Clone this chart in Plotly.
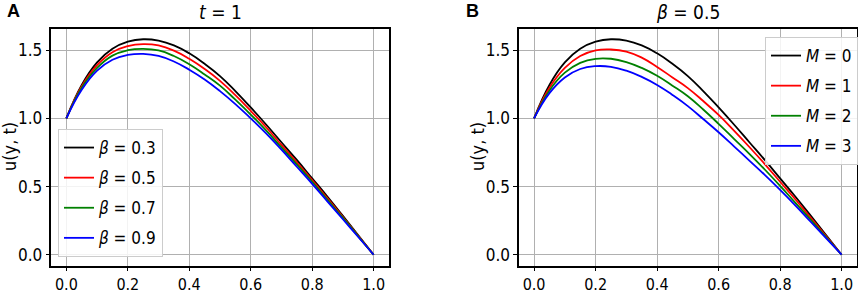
import plotly.graph_objects as go

# ---- data ----
y_pos = [0.0, 0.05, 0.1, 0.15, 0.2, 0.25, 0.3, 0.35, 0.4, 0.45, 0.5,
         0.55, 0.6, 0.65, 0.7, 0.75, 0.8, 0.85, 0.9, 0.95, 1.0]

# Panel A (t = 1), varying beta
beta_labels = ["0.3", "0.5", "0.7", "0.9"]
u_beta_03 = [1.00, 1.245, 1.41, 1.51, 1.562, 1.58, 1.57, 1.535, 1.477, 1.40, 1.31,
             1.20, 1.08, 0.955, 0.825, 0.695, 0.56, 0.425, 0.285, 0.143, 0.0]
u_beta_05 = [1.00, 1.235, 1.39, 1.485, 1.53, 1.545, 1.535, 1.497, 1.437, 1.362, 1.275,
             1.17, 1.055, 0.935, 0.805, 0.678, 0.548, 0.413, 0.277, 0.138, 0.0]
u_beta_07 = [1.00, 1.225, 1.37, 1.46, 1.50, 1.51, 1.498, 1.457, 1.397, 1.322, 1.24,
             1.137, 1.028, 0.912, 0.787, 0.662, 0.535, 0.402, 0.27, 0.135, 0.0]
u_beta_09 = [1.00, 1.21, 1.35, 1.43, 1.465, 1.473, 1.458, 1.417, 1.357, 1.285, 1.20,
             1.105, 1.00, 0.89, 0.77, 0.645, 0.52, 0.39, 0.26, 0.13, 0.0]

# Panel B (beta = 0.5), varying M
m_labels = ["0", "1", "2", "3"]
u_m_0 = [1.00, 1.245, 1.41, 1.51, 1.562, 1.58, 1.57, 1.535, 1.477, 1.40, 1.31,
         1.20, 1.08, 0.955, 0.825, 0.695, 0.56, 0.425, 0.285, 0.143, 0.0]
u_m_1 = [1.00, 1.225, 1.37, 1.457, 1.498, 1.505, 1.49, 1.445, 1.377, 1.30, 1.222,
         1.127, 1.025, 0.91, 0.79, 0.665, 0.535, 0.405, 0.27, 0.135, 0.0]
u_m_2 = [1.00, 1.205, 1.335, 1.407, 1.437, 1.437, 1.413, 1.37, 1.312, 1.24, 1.162,
         1.065, 0.96, 0.85, 0.74, 0.625, 0.505, 0.38, 0.255, 0.128, 0.0]
u_m_3 = [1.00, 1.185, 1.30, 1.362, 1.383, 1.378, 1.35, 1.304, 1.245, 1.172, 1.09,
         0.995, 0.898, 0.795, 0.69, 0.585, 0.475, 0.36, 0.24, 0.12, 0.0]

x_ticks = [0.0, 0.2, 0.4, 0.6, 0.8, 1.0]
y_ticks = [0.0, 0.5, 1.0, 1.5]

colors = ["#000000", "#ff0000", "#008000", "#0000ff"]

FONT = "DejaVu Sans Condensed, DejaVu Sans, sans-serif"
W, H = 858, 294

fig = go.Figure()

for i, (lab, ys, c) in enumerate(zip(beta_labels, [u_beta_03, u_beta_05, u_beta_07, u_beta_09], colors)):
    fig.add_trace(go.Scatter(
        x=y_pos, y=ys, mode="lines", line=dict(color=c, width=1.8, shape="spline", smoothing=1.3),
        name=f"<i>β</i> = {lab}", xaxis="x", yaxis="y", legend="legend", legendgroup=f"a{i}"))

for i, (lab, ys, c) in enumerate(zip(m_labels, [u_m_0, u_m_1, u_m_2, u_m_3], colors)):
    fig.add_trace(go.Scatter(
        x=y_pos, y=ys, mode="lines", line=dict(color=c, width=1.8, shape="spline", smoothing=1.3),
        name=f"<i>M</i> = {lab}", xaxis="x2", yaxis="y2", legend="legend2", legendgroup=f"b{i}"))

all_vals = u_beta_03 + u_beta_05 + u_beta_07 + u_beta_09
ymin, ymax = min(all_vals), max(all_vals)
pad = 0.05 * (ymax - ymin)
yr = [ymin - pad, ymax + pad]
xr = [-0.05, 1.05]

def xaxis(domain, anchor):
    return dict(domain=domain, anchor=anchor, range=xr, tickvals=x_ticks,
                tickformat=".1f", showgrid=True, gridcolor="#b0b0b0", gridwidth=1,
                showline=True, linecolor="black", linewidth=1.5, mirror=True,
                ticks="outside", ticklen=3.5, tickcolor="black", zeroline=False,
                automargin=False, ticklabelstandoff=0,
                tickfont=dict(family=FONT, size=16, color="black"))

def yaxis(domain, anchor):
    return dict(domain=domain, anchor=anchor, range=yr, tickvals=y_ticks,
                tickformat=".1f", showgrid=True, gridcolor="#b0b0b0", gridwidth=1,
                showline=True, linecolor="black", linewidth=1.5, mirror=True,
                ticks="outside", ticklen=3.5, tickcolor="black", zeroline=False,
                automargin=False,
                tickfont=dict(family=FONT, size=17, color="black"))

ydom = [1 - 265.5 / H, 1 - 28.5 / H]
x1dom = [51 / W, 389 / W]
x2dom = [518.7 / W, 857 / W]

legend_common = dict(bgcolor="rgba(255,255,255,0.85)", bordercolor="#cccccc", borderwidth=1,
                     traceorder="grouped", tracegroupgap=5,
                     font=dict(family=FONT, size=17, color="black"))

fig.update_layout(
    width=W, height=H, margin=dict(l=0, r=0, t=0, b=0),
    paper_bgcolor="white", plot_bgcolor="white",
    xaxis=xaxis(x1dom, "y"), yaxis=yaxis(ydom, "x"),
    xaxis2=xaxis(x2dom, "y2"), yaxis2=yaxis(ydom, "x2"),
    legend=dict(x=58 / W, y=1 - 257 / H, xanchor="left", yanchor="bottom", **legend_common),
    legend2=dict(x=765 / W, y=1 - 37 / H, xanchor="left", yanchor="top", **legend_common),
    annotations=[
        dict(text="<b>A</b>", x=13 / W, y=1 - 11 / H, xref="paper", yref="paper",
             showarrow=False, xanchor="center", yanchor="middle",
             font=dict(family="Liberation Sans, Arial, sans-serif", size=18, color="black")),
        dict(text="<b>B</b>", x=472 / W, y=1 - 11 / H, xref="paper", yref="paper",
             showarrow=False, xanchor="center", yanchor="middle",
             font=dict(family="Liberation Sans, Arial, sans-serif", size=18, color="black")),
        dict(text="<i>t</i> = 1", x=(x1dom[0] + x1dom[1]) / 2, y=1 - 12 / H, xref="paper", yref="paper",
             showarrow=False, xanchor="center", yanchor="middle",
             font=dict(family=FONT, size=19, color="black")),
        dict(text="<i>β</i> = 0.5", x=(x2dom[0] + x2dom[1]) / 2, y=1 - 12 / H, xref="paper", yref="paper",
             showarrow=False, xanchor="center", yanchor="middle",
             font=dict(family=FONT, size=19, color="black")),
        dict(text="u(y, t)", x=9 / W, y=(ydom[0] + ydom[1]) / 2, xref="paper", yref="paper",
             showarrow=False, xanchor="center", yanchor="middle", textangle=-90,
             font=dict(family=FONT, size=18, color="black")),
        dict(text="u(y, t)", x=477 / W, y=(ydom[0] + ydom[1]) / 2, xref="paper", yref="paper",
             showarrow=False, xanchor="center", yanchor="middle", textangle=-90,
             font=dict(family=FONT, size=18, color="black")),
    ],
)

fig.write_html("out.html", config={"displayModeBar": False},
               post_script="document.body.style.margin='0';")
